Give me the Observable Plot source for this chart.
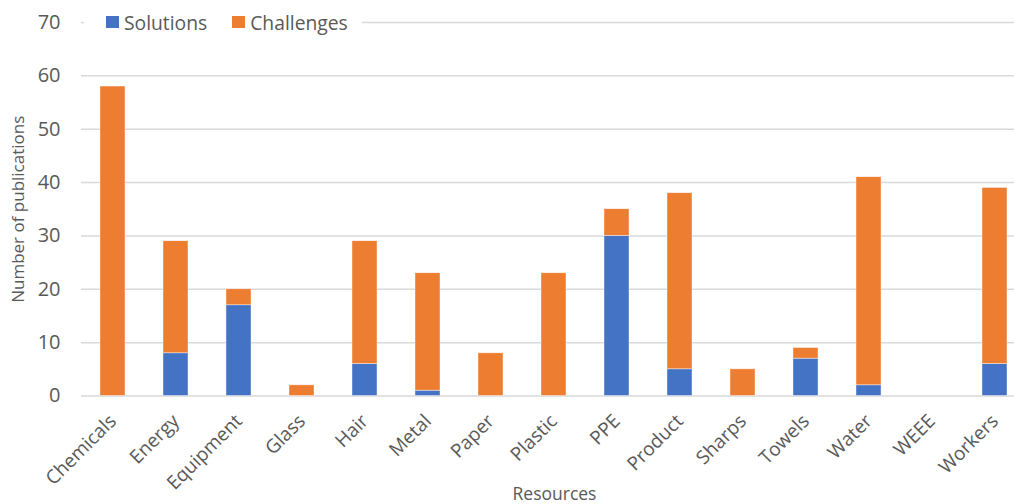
<!DOCTYPE html>
<html>
<head>
<meta charset="utf-8">
<script src="https://cdn.jsdelivr.net/npm/d3@7"></script>
<script src="https://cdn.jsdelivr.net/npm/@observablehq/plot@0.6"></script>
<style>
  html, body { margin: 0; padding: 0; background: #fff; overflow: hidden; }
  #wrap { position: relative; width: 1014px; height: 504px; font-family: "Open Sans", sans-serif; }
  #legend { position: absolute; left: 84px; top: 8px; width: 278px; height: 28px; background: #fff;
            display: flex; align-items: center; font-size: 19.3px; color: #595959; }
  .sw { display: inline-block; width: 13px; height: 12px; margin-right: 5px; }
  .item { display: flex; align-items: center; }
</style>
</head>
<body>
<div id="wrap"></div>
<script>
const categories = ["Chemicals","Energy","Equipment","Glass","Hair","Metal","Paper","Plastic","PPE","Product","Sharps","Towels","Water","WEEE","Workers"];
const solutions  = [0, 8, 17, 0, 6, 1, 0, 0, 30, 5, 0, 7, 2, 0, 6];
const challenges = [58, 21, 3, 2, 23, 22, 8, 23, 5, 33, 5, 2, 39, 0, 33];
const seriesNames = ["Solutions", "Challenges"];
const seriesColors = ["#4472C4", "#ED7D31"];
const yTicks = [0, 10, 20, 30, 40, 50, 60, 70];

const rows = [];
categories.forEach((c, i) => {
  rows.push({resource: c, series: "Solutions", value: solutions[i]});
  rows.push({resource: c, series: "Challenges", value: challenges[i]});
});

const chart = Plot.plot({
  width: 1014,
  height: 504,
  marginLeft: 81,
  marginRight: -13,
  marginTop: 22,
  marginBottom: 108.5,
  style: {fontFamily: "'Open Sans', sans-serif", color: "#595959", background: "#fff"},
  x: {domain: categories, paddingInner: 0.6, paddingOuter: 0.3, label: null},
  y: {domain: [0, 70], label: null},
  color: {domain: seriesNames, range: seriesColors},
  marks: [
    Plot.gridY(yTicks, {stroke: "#d9d9d9", strokeOpacity: 1, strokeWidth: 1.5}),
    Plot.barY(rows, {x: "resource", y: "value", fill: "series", stroke: "#fff", strokeWidth: 0.6, strokeOpacity: 0.7}),
    Plot.axisY(yTicks, {tickSize: 0, tickPadding: 21, fontSize: 20, fill: "#595959", label: null}),
    Plot.axisX({tickSize: 0, tickRotate: -45, tickPadding: 22, fontSize: 19, fill: "#595959", label: null}),
    Plot.text(["Number of publications"], {frameAnchor: "left", textAnchor: "middle", dx: -63, rotate: -90, fontSize: 17, fill: "#595959"}),
    Plot.text(["Resources"], {frameAnchor: "bottom", dy: 104, fontSize: 17.5, fill: "#595959"})
  ]
});

const wrap = document.getElementById("wrap");
wrap.appendChild(chart);
const legend = document.createElement("div");
legend.id = "legend";
legend.innerHTML = seriesNames.map((n, i) =>
  `<span class="item" style="margin-left:${i === 0 ? 22 : 25}px"><span class="sw" style="background:${seriesColors[i]}"></span>${n}</span>`
).join("");
wrap.appendChild(legend);
</script>
</body>
</html>
